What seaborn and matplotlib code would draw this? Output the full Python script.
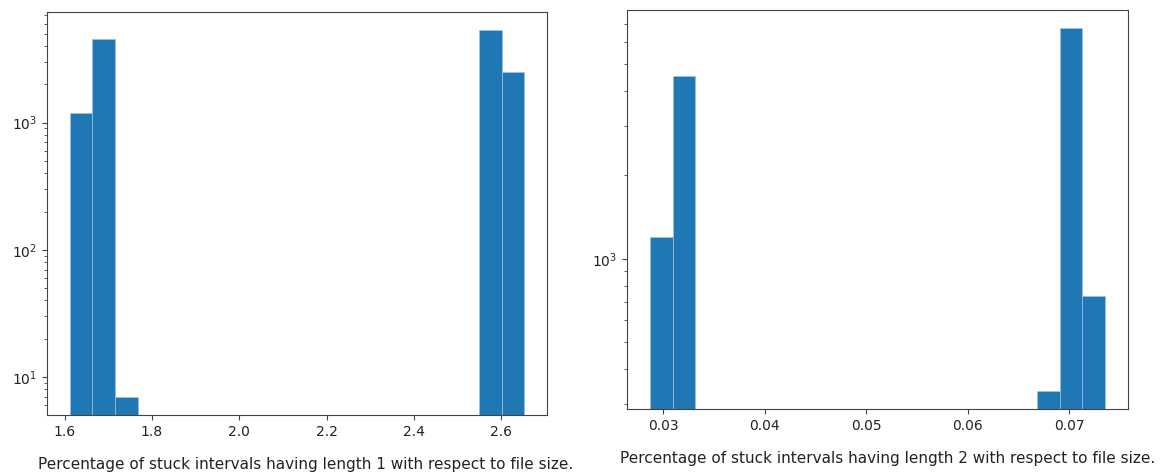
import numpy as np
import pandas as pd
import matplotlib
matplotlib.use("Agg")
import matplotlib.pyplot as plt
import seaborn as sns

# Histogram of stuck-interval percentages (length 1): 20 equal bins
len1_range = (1.6115, 2.653)
len1_counts = [1180, 4520, 7, 0, 0, 0, 0, 0, 0, 0,
               0, 0, 0, 0, 0, 0, 0, 0, 5320, 2500]

# Histogram of stuck-interval percentages (length 2): 20 equal bins
len2_range = (0.0287, 0.07353)
len2_counts = [1200, 4540, 0, 0, 0, 0, 0, 0, 0, 0,
               0, 0, 0, 0, 0, 0, 0, 335, 6745, 733]

captions = [
    "Percentage of stuck intervals having length 1 with respect to file size.",
    "Percentage of stuck intervals having length 2 with respect to file size.",
]

plt.rcParams.update({
    "font.family": ["DejaVu Sans"],
    "font.size": 10,
    "axes.edgecolor": "#444444",
    "xtick.color": "#444444",
    "ytick.color": "#444444",
    "xtick.labelcolor": "#222222",
    "ytick.labelcolor": "#222222",
})

fig = plt.figure(figsize=(11.61, 4.75), dpi=100)
ax1 = fig.add_axes([47 / 1161, 60 / 475, 500 / 1161, 403 / 475])
ax2 = fig.add_axes([627 / 1161, 66 / 475, 501 / 1161, 399 / 475])


def draw_hist(ax, value_range, counts):
    nbins = len(counts)
    edges = np.linspace(value_range[0], value_range[1], nbins + 1)
    df = pd.DataFrame({"value": (edges[:-1] + edges[1:]) / 2,
                       "count": counts})
    sns.histplot(data=df, x="value", weights="count", bins=nbins,
                 binrange=value_range, ax=ax,
                 color="#1f77b4", alpha=1.0, edgecolor="#9fc2de",
                 linewidth=0.5)
    ax.set_yscale("log")
    ax.set_xlabel("")
    ax.set_ylabel("")


draw_hist(ax1, len1_range, len1_counts)
draw_hist(ax2, len2_range, len2_counts)

fig.text(305.5 / 1161, 1 - 465 / 475, captions[0], ha="center", va="center",
         fontsize=11, color="#222222")
fig.text(887.5 / 1161, 1 - 459 / 475, captions[1], ha="center", va="center",
         fontsize=11, color="#222222")

fig.savefig("out.png", dpi=100, facecolor="white")
